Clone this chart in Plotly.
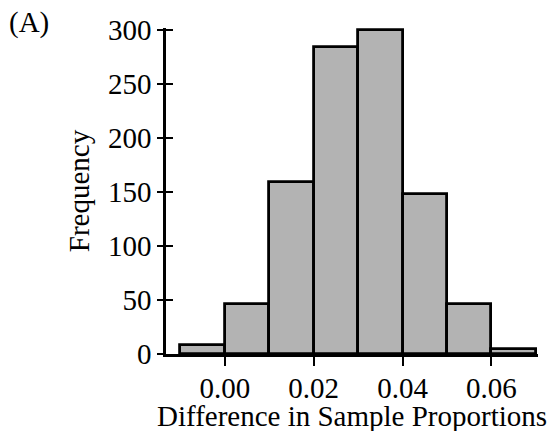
import plotly.graph_objects as go

# Data
bin_starts = [-0.01, 0.00, 0.01, 0.02, 0.03, 0.04, 0.05, 0.06]
bin_width = 0.01
frequencies = [8, 46, 159, 284, 300, 148, 46, 5]
x_tickvals = [0.00, 0.02, 0.04, 0.06]
x_ticktext = ["0.00", "0.02", "0.04", "0.06"]
y_tickvals = [0, 50, 100, 150, 200, 250, 300]
x_title = "Difference in Sample Proportions"
y_title = "Frequency"
panel_label = "(A)"

centers = [s + bin_width / 2 for s in bin_starts]

FONT = "Liberation Serif"
FS = 29

fig = go.Figure()
fig.add_trace(go.Bar(
    x=centers, y=frequencies, width=bin_width,
    marker=dict(color="#b3b3b3", line=dict(color="black", width=2.8)),
    showlegend=False,
))
# invisible trace on overlay axis for crossing ticks
fig.add_trace(go.Scatter(x=[centers[0]], y=[0], yaxis="y2", mode="markers",
                         marker=dict(opacity=0), showlegend=False, hoverinfo="skip"))

fig.update_layout(
    template="none",
    width=549, height=431,
    margin=dict(l=166, r=11, t=28, b=77, pad=0),
    paper_bgcolor="white", plot_bgcolor="white",
    font=dict(family=FONT, size=FS, color="black"),
    title=dict(text=panel_label, x=9/549, xanchor="left", y=1 - 22/431, yanchor="middle",
               font=dict(family=FONT, size=FS, color="black")),
    bargap=0,
    xaxis=dict(
        automargin=False,
        range=[-0.01326, 0.0705],
        tickvals=x_tickvals, ticktext=x_ticktext,
        ticks="outside", ticklen=9, tickwidth=2, tickcolor="black",
        ticklabelstandoff=-3,
        showline=True, linecolor="black", linewidth=2.5,
        showgrid=False, zeroline=False,
        tickfont=dict(family=FONT, size=FS),
    ),
    yaxis=dict(
        automargin=False,
        range=[0, 301.5],
        tickvals=y_tickvals,
        ticks="outside", ticklen=6, tickwidth=2, tickcolor="black",
        showline=True, linecolor="black", linewidth=2.5,
        showgrid=False, zeroline=False,
        title=dict(text=y_title, standoff=10, font=dict(family=FONT, size=FS)),
        tickfont=dict(family=FONT, size=FS),
    ),
    yaxis2=dict(
        automargin=False,
        overlaying="y", side="left", range=[0, 301.5],
        tickvals=y_tickvals, showticklabels=False,
        ticks="inside", ticklen=7, tickwidth=2, tickcolor="black",
        showline=False, showgrid=False, zeroline=False,
    ),
    annotations=[dict(
        text=x_title, xref="paper", yref="paper", x=0.5, y=-0.246,
        xanchor="center", yanchor="bottom", showarrow=False,
        font=dict(family=FONT, size=FS, color="black"),
    )],
)

fig.write_html("out.html", config={"displayModeBar": False},
               post_script="document.body.style.margin='0';")
